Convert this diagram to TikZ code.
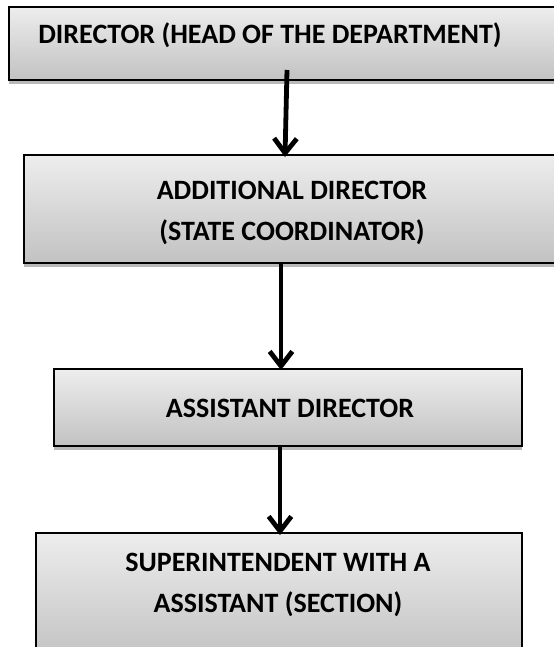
\documentclass[tikz,border=0pt]{standalone}
\usepackage{fontspec}
\setmainfont{Carlito}
\usetikzlibrary{arrows.meta,shadings}
\begin{document}
\begin{tikzpicture}[x=0.75pt,y=-0.75pt,
  boxshape/.style={draw=black,line width=1.5pt,rectangle,inner sep=0pt,
    top color=gray!14,bottom color=gray!48},
  shadowstrip/.style={fill=gray!55,draw=none},
  lbl/.style={font=\fontsize{21}{30.75}\selectfont\bfseries,align=center,inner sep=0pt},
  flow/.style={line width=3.6pt,-{Straight Barb[length=11pt,width=17pt,line width=3.6pt]}}]
\useasboundingbox (0,0) rectangle (554,647);
% shadows
\fill[shadowstrip] (9,80) rectangle (570,84);
\fill[shadowstrip] (24,263) rectangle (570,267);
\fill[shadowstrip] (54,446) rectangle (522,450);
% boxes
\node[boxshape,minimum width=561*0.75pt,minimum height=73*0.75pt] (b1) at (289.5,43.5) {};
\node[boxshape,minimum width=546*0.75pt,minimum height=108*0.75pt] (b2) at (297,209) {};
\node[boxshape,minimum width=468*0.75pt,minimum height=77*0.75pt] (b3) at (288,407.5) {};
\node[boxshape,minimum width=486*0.75pt,minimum height=127*0.75pt] (b4) at (279,596.5) {};
% texts
\node[lbl] (t1) at (270,35) {DIRECTOR (HEAD OF THE DEPARTMENT)};
\node[lbl] (t2) at (292,212.5) {ADDITIONAL DIRECTOR\\(STATE COORDINATOR)};
\node[lbl] (t3) at (290,408) {ASSISTANT DIRECTOR};
\node[lbl] (t4) at (278,585) {SUPERINTENDENT WITH A\\ASSISTANT (SECTION)};
% arrows
\coordinate (s1) at (287,70);
\coordinate (e1) at (285,157);
\coordinate (e2) at (281,370);
\coordinate (e3) at (280,535);
\draw[flow] (s1) -- (e1);
\draw[flow] (b2.south -| e2) -- (e2);
\draw[flow] (b3.south -| e3) -- (e3);
\end{tikzpicture}
\end{document}
